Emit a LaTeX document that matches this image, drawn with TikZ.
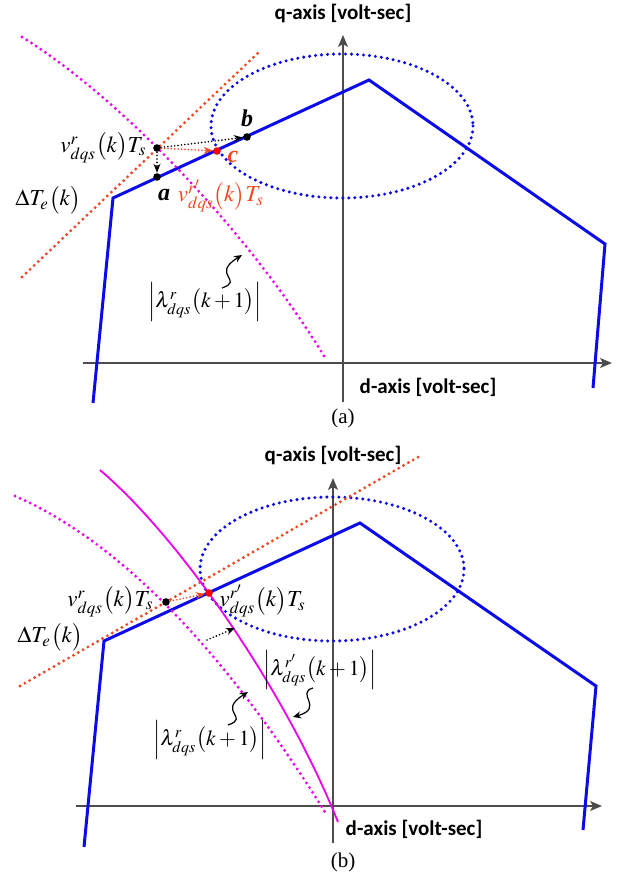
\documentclass[tikz,border=0pt]{standalone}
\usepackage{mathptmx}
\usepackage[no-math]{fontspec}
\setmainfont{Liberation Serif}
\newfontfamily\axisfont{Carlito}
\usetikzlibrary{arrows.meta,positioning}

\definecolor{limblue}{RGB}{10,10,235}
\definecolor{trqred}{RGB}{240,70,30}
\definecolor{fluxmag}{RGB}{235,0,235}

\begin{document}
\begin{tikzpicture}[
  x=0.5pt, y=-0.5pt,
  axis/.style={draw=black!70, line width=0.6pt, -{Stealth[length=6pt,width=5pt,inset=1.5pt]}},
  limit/.style={draw=limblue, line width=1.5pt},
  circ/.style={draw=limblue, line width=1.7pt, dash pattern=on 0pt off 3pt, line cap=round},
  torque/.style={draw=trqred, line width=1.6pt, dash pattern=on 0pt off 2.8pt, line cap=round},
  flux/.style={draw=fluxmag, line width=1.6pt, dash pattern=on 0pt off 2.8pt, line cap=round},
  fluxnew/.style={draw=fluxmag, line width=0.9pt},
  vec/.style={draw=black, line width=0.9pt, dash pattern=on 0pt off 1.7pt, line cap=round, -{Stealth[length=4.5pt,width=3.5pt]}},
  rvec/.style={vec, draw=trqred, -{Stealth[length=4.5pt,width=3.5pt,fill=trqred]}},
  squig/.style={draw=black, line width=0.6pt, -{Stealth[length=4pt,width=3.5pt]}},
  dotpt/.style={circle, fill=black, inner sep=0pt, minimum size=3.8pt},
  rdotpt/.style={dotpt, fill=red},
  lab/.style={font=\fontsize{11.5}{14}\selectfont, inner sep=1pt},
  flab/.style={font=\fontsize{10.8}{13}\selectfont, inner sep=1pt},
  ptlab/.style={font=\fontsize{12}{14}\selectfont\bfseries\itshape, inner sep=1pt},
  axlab/.style={font=\axisfont\bfseries\fontsize{10.5}{12}\selectfont, inner sep=1pt},
  captext/.style={font=\fontsize{10.5}{12}\selectfont, inner sep=1pt},
]
  \useasboundingbox (0,0) rectangle (624,876);

  % Panel (a): axes
  \coordinate (qa0) at (343,402);
  \coordinate (qa1) at (343,35);
  \coordinate (da0) at (83,363);
  \coordinate (da1) at (612,363);
  \draw[axis] (da0) -- (da1);
  \draw[axis] (qa0) -- (qa1);
  \node[axlab] (qlaba) at (343,13) {q-axis [volt-sec]};
  \node[axlab] (dlaba) at (428,387) {d-axis [volt-sec]};
  \node[captext] (capa) at (343,418) {(a)};

  % Panel (a): voltage limit and curves
  \draw[limit] (93,403) -- (113,198) -- (369,80) -- (605,244) -- (593,388);
  \draw[circ] (342,126) ellipse [x radius=131, y radius=72];
  \draw[torque] (22,277) -- (258,53);
  \draw[flux] (22,37) .. controls (122,99) and (249,233) .. (324,356);

  % Panel (a): vectors
  \node[dotpt] (va) at (157,148) {};
  \node[dotpt] (pa) at (157,177) {};
  \node[dotpt] (pb) at (247,137) {};
  \node[rdotpt] (pc) at (217,151) {};
  \draw[vec] (va) -- (pa);
  \draw[vec] (va) -- (pb);
  \draw[rvec] (va) -- (pc);
  \node[ptlab, below=3pt of pa, xshift=3.5pt] (laba) {a};
  \node[ptlab, above=2pt of pb] (labb) {b};
  \node[ptlab, text=trqred, right=2pt of pc, yshift=-3pt] (labc) {c};
  \node[lab, left=2pt of va] (vlaba) {$v^{r}_{dqs}\bigl(k\bigr)T_s$};
  \node[lab, text=trqred] (vplaba) at (221,196) {$v^{r'}_{dqs}\bigl(k\bigr)T_s$};
  \node[lab] (tlaba) at (48,200) {$\Delta T_e\bigl(k\bigr)$};
  \node[flab] (llaba) at (205,302) {$\Bigl|\lambda^{r}_{dqs}\bigl(k+1\bigr)\Bigr|$};
  \coordinate (sqa0) at (222,288);
  \coordinate (sqa1) at (242,255);
  \draw[squig] (sqa0) .. controls (245,280) and (210,275) .. (sqa1);

  % Panel (b): axes
  \coordinate (qb0) at (333,843);
  \coordinate (qb1) at (333,478);
  \coordinate (db0) at (76,806);
  \coordinate (db1) at (602,806);
  \draw[axis] (db0) -- (db1);
  \draw[axis] (qb0) -- (qb1);
  \node[axlab] (qlabb) at (333,455) {q-axis [volt-sec]};
  \node[axlab] (dlabb) at (414,829) {d-axis [volt-sec]};
  \node[captext] (capb) at (343,862) {(b)};

  % Panel (b): voltage limit and curves
  \draw[limit] (84,847) -- (104,641) -- (360,523) -- (596,686) -- (583,830);
  \draw[circ] (332,569) ellipse [x radius=132, y radius=72];
  \draw[torque] (20,686) -- (420,456);
  \draw[flux] (15,496) .. controls (118,541) and (222,647) .. (325,812);
  \draw[fluxnew] (100,470) .. controls (180,538) and (285,690) .. (338,822);

  % Panel (b): vectors
  \node[dotpt] (vb) at (166,602) {};
  \node[rdotpt] (vpb) at (209,593) {};
  \draw[rvec] (vb) -- (vpb);
  \coordinate (fb0) at (207,640);
  \coordinate (fb1) at (235,628);
  \draw[vec] (fb0) -- (fb1);
  \node[lab, left=3pt of vb] (vlabb) {$v^{r}_{dqs}\bigl(k\bigr)T_s$};
  \node[lab, right=2pt of vpb, yshift=-4pt] (vplabb) {$v^{r'}_{dqs}\bigl(k\bigr)T_s$};
  \node[lab] (tlabb) at (50,637) {$\Delta T_e\bigl(k\bigr)$};
  \node[flab] (lplabb) at (320,670) {$\Bigl|\lambda^{r'}_{dqs}\bigl(k+1\bigr)\Bigr|$};
  \node[flab] (llabb) at (210,740) {$\Bigl|\lambda^{r}_{dqs}\bigl(k+1\bigr)\Bigr|$};
  \coordinate (sqb0) at (228,725);
  \coordinate (sqb1) at (248,692);
  \draw[squig] (sqb0) .. controls (251,717) and (216,712) .. (sqb1);
  \coordinate (sqc0) at (313,688);
  \coordinate (sqc1) at (293,717);
  \draw[squig] (sqc0) .. controls (295,693) and (325,708) .. (sqc1);
\end{tikzpicture}
\end{document}
